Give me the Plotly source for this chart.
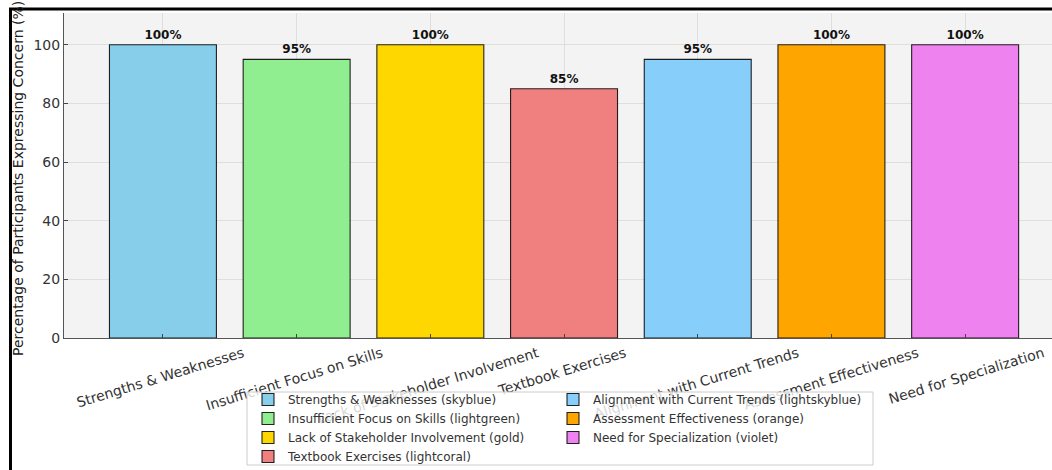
import plotly.graph_objects as go

# ---- data ----
categories = [
    "Strengths & Weaknesses",
    "Insufficient Focus on Skills",
    "Lack of Stakeholder Involvement",
    "Textbook Exercises",
    "Alignment with Current Trends",
    "Assessment Effectiveness",
    "Need for Specialization",
]
values = [100, 95, 100, 85, 95, 100, 100]
color_names = ["skyblue", "lightgreen", "gold", "lightcoral",
               "lightskyblue", "orange", "violet"]
y_ticks = [0, 20, 40, 60, 80, 100]
y_title = "Percentage of Participants Expressing Concern (%)"

# ---- styles ----
bar_colors = ["#87CEEB", "#90EE90", "#FFD700", "#F08080",
              "#87CEFA", "#FFA500", "#EE82EE"]
FONT = "DejaVu Sans"
W, H = 1052, 470
ML, MR, MT, MB = 64, 0, 13, 132
PW, PH = W - ML - MR, H - MT - MB
XR = [-0.74, -0.74 + PW / 133.7]
TICK_ANGLE = -17
# horizontal shifts (px) that centre each end-anchored rotated label on its bar
label_shifts = [80, 85, 107, 61, 100, 86, 78]


def px_to_paper_x(px):
    return (px - ML) / PW


def px_to_paper_y(py):
    return (MT + PH - py) / PH


fig = go.Figure()
for i, (cat, val) in enumerate(zip(categories, values)):
    fig.add_trace(go.Bar(
        x=[i], y=[val], width=0.8,
        name=f"{cat} ({color_names[i]})",
        marker=dict(color=bar_colors[i], line=dict(color="rgba(0,0,0,0.85)", width=1.1)),
        text=[f"<b>{val}%</b>"], textposition="outside",
        textfont=dict(family=FONT, size=12, color="#111"),
        cliponaxis=False,
        legend="legend" if i < 4 else "legend2",
        hoverinfo="skip",
    ))
    # invisible companion trace so that the label axis of this category is drawn
    fig.add_trace(go.Scatter(
        x=[i], y=[val], xaxis=f"x{i + 2}", yaxis="y",
        mode="none", showlegend=False, hoverinfo="skip",
    ))

layout = dict(
    template="none",
    width=W, height=H,
    margin=dict(l=ML, r=MR, t=MT, b=MB, autoexpand=False),
    paper_bgcolor="white",
    plot_bgcolor="#f3f3f3",
    barmode="overlay",
    font=dict(family=FONT, color="#333"),
    xaxis=dict(
        range=XR, tickmode="array", tickvals=list(range(len(categories))),
        showticklabels=False, ticks="inside", ticklen=4, tickcolor="#444",
        showline=True, linecolor="#555", linewidth=1,
        showgrid=True, gridcolor="#dedede", gridwidth=1, zeroline=False,
        automargin=False,
    ),
    yaxis=dict(
        range=[0, 110.8], tickmode="array", tickvals=y_ticks,
        ticks="inside", ticklen=4, tickcolor="#444",
        tickfont=dict(size=14, color="#333"),
        showline=True, linecolor="#555", linewidth=1,
        showgrid=True, gridcolor="#dedede", gridwidth=1, zeroline=False,
        automargin=False,
    ),
    legend=dict(
        x=px_to_paper_x(248), y=px_to_paper_y(385), xanchor="left", yanchor="top",
        bgcolor="rgba(0,0,0,0)", borderwidth=0,
        font=dict(family=FONT, size=12, color="#333"),
    ),
    legend2=dict(
        x=px_to_paper_x(553), y=px_to_paper_y(385), xanchor="left", yanchor="top",
        bgcolor="rgba(0,0,0,0)", borderwidth=0,
        font=dict(family=FONT, size=12, color="#333"),
    ),
    annotations=[
        dict(text=y_title, textangle=-90, xref="paper", yref="paper",
             x=px_to_paper_x(18), y=px_to_paper_y(179), xanchor="center", yanchor="middle",
             showarrow=False, font=dict(family=FONT, size=14, color="#222")),
    ],
    shapes=[
        # legend frame (semi-transparent, covers tick labels like the original)
        dict(type="rect", xref="paper", yref="paper", layer="above",
             x0=px_to_paper_x(247), x1=px_to_paper_x(873),
             y0=px_to_paper_y(465), y1=px_to_paper_y(392),
             fillcolor="rgba(255,255,255,0.8)", line=dict(color="#cccccc", width=1)),
        # outer black frame (top and left edges of the screenshot)
        dict(type="line", xref="paper", yref="paper", layer="above",
             x0=px_to_paper_x(9), x1=px_to_paper_x(W + 5),
             y0=px_to_paper_y(9), y1=px_to_paper_y(9),
             line=dict(color="black", width=3)),
        dict(type="line", xref="paper", yref="paper", layer="above",
             x0=px_to_paper_x(10.5), x1=px_to_paper_x(10.5),
             y0=px_to_paper_y(8), y1=px_to_paper_y(H + 5),
             line=dict(color="black", width=3)),
    ],
)

# one overlaying x-axis per category label, so each rotated label can be centred on its bar
for i, cat in enumerate(categories):
    layout[f"xaxis{i + 2}"] = dict(
        overlaying="x", anchor="y", side="bottom", range=XR,
        tickmode="array", tickvals=[i], ticktext=[cat],
        tickangle=TICK_ANGLE, ticklabelshift=label_shifts[i], ticklabelstandoff=4,
        tickfont=dict(family=FONT, size=14, color="#333"),
        ticks="", showgrid=False, zeroline=False, showline=False,
        ticklabeloverflow="allow", automargin=False,
    )

fig.update_layout(**layout)
fig.write_html("out.html")
